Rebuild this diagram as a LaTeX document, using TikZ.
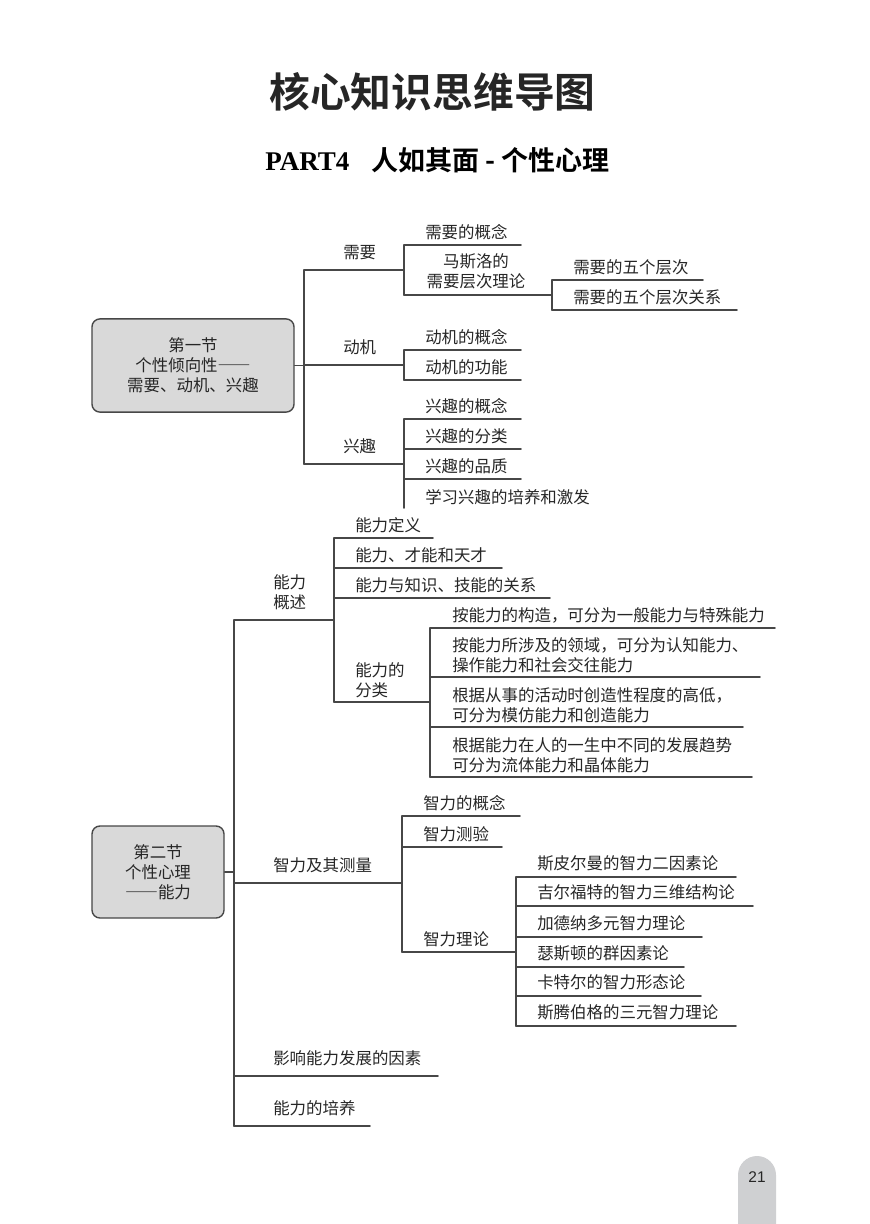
\documentclass[tikz,border=0pt]{standalone}
\usepackage{fontspec}
\setmainfont{Noto Sans CJK SC}[BoldFont={Noto Sans CJK SC Bold}]
\newfontfamily\serifbold{Liberation Serif Bold}
\newfontfamily\numfont{Liberation Sans}
\definecolor{linegray}{HTML}{474747}
\definecolor{boxgray}{HTML}{D9D9D9}
\definecolor{tabgray}{HTML}{CFD0D2}
\definecolor{ink}{HTML}{262626}
\newcommand\maptext{\fontsize{11.7pt}{14.2pt}\selectfont}
\newcommand\longdash{{\addfontfeatures{RawFeature=+fwid}——}}
\tikzset{
  branch/.style={draw=linegray, line width=1.1pt},
  secbox/.style={draw=linegray, fill=boxgray, line width=1pt, rounded corners=0.2cm, align=center, font=\maptext, text=ink},
  head/.style={anchor=base west, inner sep=0pt, font=\maptext, text=ink, align=left},
  leaf/.style={anchor=base west, inner sep=0pt, font=\maptext, text=ink, align=left},
}
\begin{document}
\begin{tikzpicture}[x=0.025cm, y=-0.025cm, line join=round, line cap=round]
\useasboundingbox (0,0) rectangle (869,1224);
% 标题
\node[font=\bfseries\fontsize{29pt}{32pt}\selectfont, text=ink] (title) at (432.5,92) {核心知识思维导图};
\node[font=\fontsize{19.2pt}{22pt}\selectfont, text=black] (part) at (437.5,160) {{\serifbold PART4}\hspace{0.55cm}{\bfseries 人如其面 - 个性心理}};

% 第一节
\node[secbox, minimum width=5.05cm, minimum height=2.33cm] (S1) at (193,365.5) {第一节\\个性倾向性\longdash\\需要、动机、兴趣};
\coordinate (M1) at (304,270);
\coordinate (M1e) at (304,464);
\draw[branch] (M1) -- (M1e);
\draw[branch] (S1.east) -- (S1.east -| M1);
\foreach \y/\t/\n in {270/需要/xuyao, 365/动机/dongji, 464/兴趣/xingqu}{
  \draw[branch] (304,\y) -- (404,\y);
  \node[head] (\n) at (343,\y-11.5) {\t};
}
% 需要
\draw[branch] (404,245) -- (404,295);
\draw[branch] (404,245) -- (521,245);
\node[leaf] (xygn) at (425,238) {需要的概念};
\draw[branch] (404,295) -- (552,295);
\node[leaf, align=center, anchor=base] (maslow) at (476,287) {马斯洛的\\需要层次理论};
\draw[branch] (552,280) -- (552,310);
\foreach \y/\e/\t/\n in {280/703/需要的五个层次/cengci, 310/737/需要的五个层次关系/guanxi}{
  \draw[branch] (552,\y) -- (\e,\y);
  \node[leaf] (\n) at (573,\y-7) {\t};
}
% 动机
\draw[branch] (404,350) -- (404,380);
\foreach \y/\t/\n in {350/动机的概念/djgn, 380/动机的功能/djgx}{
  \draw[branch] (404,\y) -- (521,\y);
  \node[leaf] (\n) at (425,\y-7) {\t};
}
% 兴趣
\draw[branch] (404,419) -- (404,508);
\foreach \y/\t/\n in {419/兴趣的概念/xq1, 449/兴趣的分类/xq2, 479/兴趣的品质/xq3}{
  \draw[branch] (404,\y) -- (521,\y);
  \node[leaf] (\n) at (425,\y-7) {\t};
}
\node[leaf] (xq4) at (425,503) {学习兴趣的培养和激发};

% 第二节
\node[secbox, minimum width=3.3cm, minimum height=2.3cm] (S2) at (158,872) {第二节\\个性心理\\\longdash 能力};
\coordinate (M2) at (234,620);
\coordinate (M2e) at (234,1126);
\draw[branch] (M2) -- (M2e);
\draw[branch] (S2.east) -- (S2.east -| M2);
% 能力概述
\draw[branch] (234,620) -- (334,620);
\node[head] (gaishu) at (273,608) {能力\\概述};
\draw[branch] (334,538) -- (334,702);
\foreach \y/\e/\t/\n in {538/433/能力定义/dingyi, 568/502/能力、才能和天才/tiancai, 598/550/能力与知识、技能的关系/zhishi}{
  \draw[branch] (334,\y) -- (\e,\y);
  \node[leaf] (\n) at (355,\y-7) {\t};
}
\draw[branch] (334,702) -- (430,702);
\node[leaf] (fenlei) at (355,696) {能力的\\分类};
\draw[branch] (430,628) -- (430,777);
\foreach \y/\b/\e/\t/\n in {628/621/775/{按能力的构造，可分为一般能力与特殊能力}/fl1,
    677/671/760/{按能力所涉及的领域，可分为认知能力、\\操作能力和社会交往能力}/fl2,
    727/721/743/{根据从事的活动时创造性程度的高低，\\可分为模仿能力和创造能力}/fl3,
    777/771/752/{根据能力在人的一生中不同的发展趋势\\可分为流体能力和晶体能力}/fl4}{
  \draw[branch] (430,\y) -- (\e,\y);
  \node[leaf] (\n) at (452,\b) {\t};
}
% 智力及其测量
\draw[branch] (234,883) -- (402,883);
\node[head] (celiang) at (273,871.5) {智力及其测量};
\draw[branch] (402,816) -- (402,952);
\foreach \y/\e/\t/\n in {816/520/智力的概念/zlgn, 847/502/智力测验/ceyan, 952/516/智力理论/lilun}{
  \draw[branch] (402,\y) -- (\e,\y);
  \node[leaf] (\n) at (423,\y-7) {\t};
}
\draw[branch] (516,877) -- (516,1026);
\foreach \y/\e/\t/\n in {877/736/斯皮尔曼的智力二因素论/th1, 906/753/吉尔福特的智力三维结构论/th2,
    937/702/加德纳多元智力理论/th3, 967/684/瑟斯顿的群因素论/th4,
    996/701/卡特尔的智力形态论/th5, 1026/736/斯腾伯格的三元智力理论/th6}{
  \draw[branch] (516,\y) -- (\e,\y);
  \node[leaf] (\n) at (537,\y-8) {\t};
}
% 影响与培养
\foreach \y/\e/\t/\n in {1076/438/影响能力发展的因素/yingxiang, 1126/370/能力的培养/peiyang}{
  \draw[branch] (234,\y) -- (\e,\y);
  \node[head] (\n) at (273,\y-11.5) {\t};
}

% 页码
\fill[tabgray] (738,1224) -- (738,1175) arc[start angle=180, end angle=360, radius=19] -- (776,1224) -- cycle;
\node[font=\numfont\fontsize{11pt}{12pt}\selectfont, text=ink] (page) at (757,1177) {21};
\end{tikzpicture}
\end{document}
